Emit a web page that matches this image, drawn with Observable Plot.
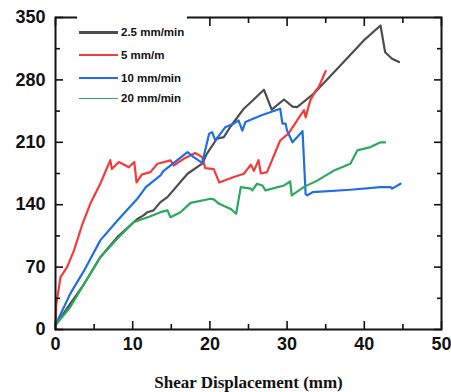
<!DOCTYPE html>
<html><head><meta charset="utf-8">
<script src="https://cdn.jsdelivr.net/npm/d3@7"></script>
<script src="https://cdn.jsdelivr.net/npm/@observablehq/plot@0.6"></script>
<style>
body{margin:0;background:#fff}
#wrap{position:relative;width:451px;height:392px}
#legend{position:absolute;left:77px;top:14px;width:110px;height:94px;background:#fff;font-family:"Liberation Sans",Arial,sans-serif;font-weight:bold;font-size:11.5px;color:#111}
#legend .row{position:absolute;left:2px;height:14px;display:flex;align-items:center}
#legend .sw{width:39px;margin-right:3px}
</style>
</head><body><div id="wrap"><div id="legend"></div></div>
<script>
const seriesNames = ["2.5 mm/min", "5 mm/m", "10 mm/min", "20 mm/min"];
const seriesColors = ["#4d4d4d", "#f23b3b", "#1f6fe3", "#2ba95c"];

const x25 = [0, 1.9, 3.7, 5.8, 8, 10.6, 11.4, 11.9, 12.7, 13.6, 14.5, 17.1, 19, 19.6, 20.9, 21.8, 22.7, 24.4, 25.3, 27, 28, 29.6, 30.7, 31.3, 33.5, 36.5, 39.9, 42.1, 42.7, 43.6, 44.5];
const y25 = [5, 28.8, 51, 81, 103.6, 124, 128, 131.6, 133.6, 142.9, 148.5, 174.7, 186, 197, 214, 215.8, 228, 247.7, 255, 269, 246.6, 258, 250, 249.5, 265, 292.6, 324, 341, 311, 303.8, 300];

const x5 = [0, 0.1, 0.65, 1.5, 2.4, 3.5, 4.5, 5.8, 7.1, 7.3, 8.2, 9.5, 10.2, 10.5, 11.2, 12.3, 13.2, 14.9, 15.3, 16.6, 18.1, 19, 19.4, 20.5, 21.2, 23.1, 24.4, 25.3, 25.7, 26.3, 26.6, 27.4, 29.1, 30.2, 31.7, 32.2, 32.4, 33, 33.7, 34.1, 35];
const y5 = [0, 28, 58.7, 70, 88.7, 118.6, 141, 163.5, 190, 180, 188, 182, 188, 165, 174, 176.5, 186, 189.7, 184, 191.5, 198, 193.4, 181, 180, 165, 171, 174.7, 185, 178, 190, 175, 176.5, 212, 220, 240, 246, 238, 257, 268, 272, 290];

const x10 = [0, 1.9, 3.7, 5.8, 8, 10.6, 11.4, 11.7, 13.6, 14, 17.1, 17.9, 19, 19.9, 20.3, 20.7, 22, 23.1, 23.7, 24.2, 24.6, 26.6, 29.1, 29.4, 29.8, 30, 30.7, 32, 32.4, 32.6, 33.3, 38.2, 42.1, 43.4, 43.6, 44.7];
const y10 = [5, 40, 66, 100, 122, 146.7, 156, 159.7, 172.8, 178, 199, 193.4, 187, 219.6, 221.4, 212, 227, 231, 234.5, 223, 232.7, 240, 247.7, 231, 231, 223, 210, 222.5, 152, 150.4, 154, 156.8, 159.7, 159.7, 158, 163.5];

const x20 = [0, 1.9, 3.7, 5.8, 8, 10.1, 12.3, 13.6, 14.5, 14.9, 16.2, 17.5, 20.1, 20.5, 21.2, 22.7, 23.4, 24, 25.3, 25.5, 26.1, 26.8, 27.2, 29.6, 30.4, 30.6, 32.2, 33.9, 36, 38.2, 39.1, 40.8, 42.1, 42.7];
const y20 = [5, 25, 51, 81, 101.7, 120.4, 127, 131.6, 133.6, 126, 131.6, 142, 146.7, 146, 141, 135.3, 129.8, 159.7, 158, 156, 163.5, 161.6, 156, 161.6, 166, 150.4, 160, 167, 178, 186, 201, 204.6, 210, 210];

const xTicks = [0, 10, 20, 30, 40, 50];
const xMinor = [5, 15, 25, 35, 45];
const yTicks = [0, 70, 140, 210, 280, 350];
const yMinor = [35, 105, 175, 245, 315];

const seriesX = [x25, x5, x10, x20];
const seriesY = [y25, y5, y10, y20];
const data = [];
seriesNames.forEach((s, i) => seriesX[i].forEach((xv, j) => data.push({s, x: xv, y: seriesY[i][j]})));

const bold = {fontSize: 18, fontWeight: "bold"};
const chart = Plot.plot({
  width: 451, height: 392,
  marginLeft: 55, marginRight: 10, marginTop: 17, marginBottom: 63,
  style: {fontFamily: "'Liberation Sans', Arial, sans-serif", background: "white", color: "#111"},
  x: {domain: [0, 50]},
  y: {domain: [0, 350]},
  color: {domain: seriesNames, range: seriesColors},
  marks: [
    Plot.line(data, {x: "x", y: "y", z: "s", stroke: "s", strokeWidth: 2.2}),
    Plot.axisX(xTicks, {anchor: "bottom", tickSize: -8, tickFormat: () => "", label: null, strokeWidth: 1.6}),
    Plot.axisX(xMinor, {anchor: "bottom", tickSize: -5, tickFormat: () => "", label: null, strokeWidth: 1.6}),
    Plot.axisX(xTicks, {anchor: "top", tickSize: -8, tickFormat: () => "", label: null, strokeWidth: 1.6}),
    Plot.axisX(xMinor, {anchor: "top", tickSize: -5, tickFormat: () => "", label: null, strokeWidth: 1.6}),
    Plot.axisY(yTicks, {anchor: "left", tickSize: -8, tickFormat: () => "", label: null, strokeWidth: 1.6}),
    Plot.axisY(yMinor, {anchor: "left", tickSize: -5, tickFormat: () => "", label: null, strokeWidth: 1.6}),
    Plot.axisY(yTicks, {anchor: "right", tickSize: -8, tickFormat: () => "", label: null, strokeWidth: 1.6}),
    Plot.axisY(yMinor, {anchor: "right", tickSize: -5, tickFormat: () => "", label: null, strokeWidth: 1.6}),
    Plot.axisX(xTicks, {anchor: "bottom", tickSize: 0, tickPadding: 8, ...bold, label: null}),
    Plot.axisY(yTicks, {anchor: "left", tickSize: 0, tickPadding: 10, ...bold, label: null}),
    Plot.axisX([], {anchor: "bottom", tickSize: 0, label: "Shear Displacement (mm)", labelAnchor: "center", labelArrow: "none", labelOffset: 58, fontSize: 17, fontWeight: "bold", fontFamily: "'Liberation Serif', 'Times New Roman', serif"}),
    Plot.frame({strokeWidth: 2, stroke: "#111"})
  ]
});
document.getElementById("wrap").prepend(chart);

const leg = document.getElementById("legend");
const rowTops = [11, 34, 57, 77];
const sw = [3, 2.5, 2.2, 1.6];
seriesNames.forEach((s, i) => {
  const r = document.createElement("div");
  r.className = "row";
  r.style.top = rowTops[i] + "px";
  r.innerHTML = `<span class="sw" style="border-top:${sw[i]}px solid ${seriesColors[i]}"></span><span>${s}</span>`;
  leg.appendChild(r);
});
</script>
</body></html>
